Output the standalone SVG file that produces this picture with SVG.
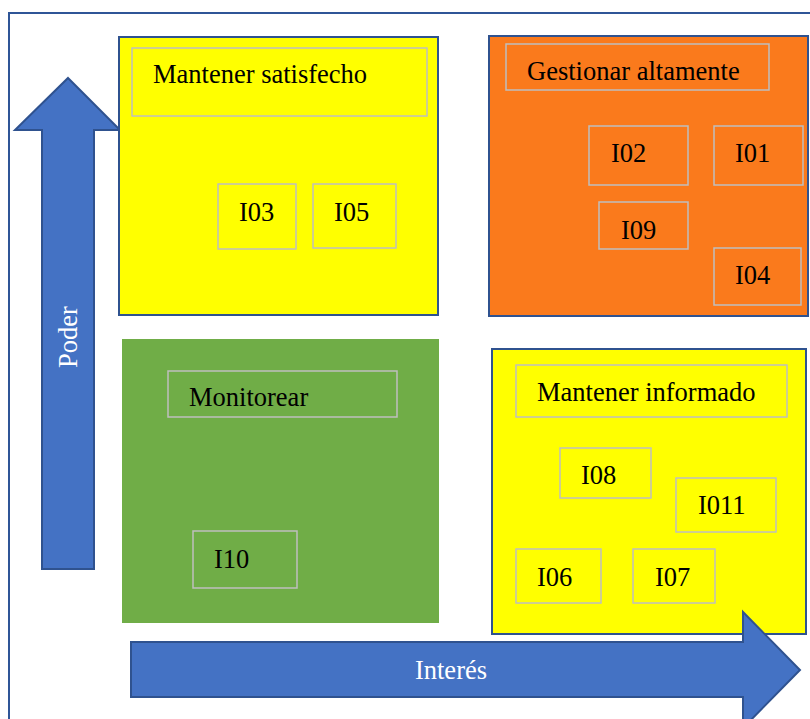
<svg xmlns="http://www.w3.org/2000/svg" width="810" height="719" viewBox="0 0 810 719">
<style>
.quad{stroke:#2F528F;stroke-width:2}
.lbl{fill:none;stroke:#BFBFBF;stroke-width:1.5}
.t{font-family:"Liberation Serif","Times New Roman",serif;font-size:26.5px;fill:#000}
.w{font-family:"Liberation Serif","Times New Roman",serif;font-size:26.5px;fill:#FFFFFF}
.arrow{fill:#4472C4;stroke:#2F528F;stroke-width:2}
</style>
<rect x="0" y="0" width="810" height="719" fill="#FFFFFF"/>
<rect id="frame" x="9" y="13" width="820" height="730" fill="none" stroke="#2F5597" stroke-width="2"/>
<g id="connectors">
<path id="arrow-poder" class="arrow" d="M68,78 L120,130 L94,130 L94,569 L42,569 L42,130 L15,130 Z"/>
</g>
<g id="q-satisfecho">
<rect class="quad" x="119" y="37" width="319" height="278" fill="#FFFF00"/>
<rect class="lbl" x="132" y="48" width="295" height="68"/>
<text class="t" x="153" y="83">Mantener satisfecho</text>
<g id="I03"><rect class="lbl" x="218" y="184" width="78" height="65"/><text class="t" x="239" y="221">I03</text></g>
<g id="I05"><rect class="lbl" x="313" y="184" width="83" height="64"/><text class="t" x="334" y="221">I05</text></g>
</g>
<g id="q-gestionar">
<rect class="quad" x="489" y="36" width="319" height="280" fill="#FA7A1C"/>
<rect class="lbl" x="506" y="44" width="263" height="46"/>
<text class="t" x="527" y="80">Gestionar altamente</text>
<g id="I02"><rect class="lbl" x="589" y="126" width="99" height="59"/><text class="t" x="611" y="162">I02</text></g>
<g id="I01"><rect class="lbl" x="714" y="126" width="89" height="59"/><text class="t" x="735" y="162">I01</text></g>
<g id="I09"><rect class="lbl" x="599" y="202" width="89" height="47"/><text class="t" x="621" y="239">I09</text></g>
<g id="I04"><rect class="lbl" x="714" y="248" width="87" height="57"/><text class="t" x="735" y="284">I04</text></g>
</g>
<g id="q-monitorear">
<rect x="122" y="339" width="317" height="284" fill="#70AD47"/>
<rect class="lbl" x="168" y="371" width="229" height="46"/>
<text class="t" x="189" y="406">Monitorear</text>
<g id="I10"><rect class="lbl" x="193" y="531" width="104" height="57"/><text class="t" x="214" y="568">I10</text></g>
</g>
<g id="q-informado">
<rect class="quad" x="492" y="349" width="314" height="285" fill="#FFFF00"/>
<rect class="lbl" x="516" y="365" width="271" height="52"/>
<text class="t" x="537" y="401">Mantener informado</text>
<g id="I08"><rect class="lbl" x="560" y="448" width="91" height="50"/><text class="t" x="581" y="484">I08</text></g>
<g id="I011"><rect class="lbl" x="676" y="478" width="100" height="54"/><text class="t" x="698" y="514">I011</text></g>
<g id="I06"><rect class="lbl" x="516" y="549" width="85" height="54"/><text class="t" x="537" y="586">I06</text></g>
<g id="I07"><rect class="lbl" x="633" y="549" width="82" height="54"/><text class="t" x="655" y="586">I07</text></g>
</g>
<g id="axis-interes">
<path class="arrow" d="M131,642 L743,642 L743,612 L800,670 L743,728 L743,697 L131,697 Z"/>
<text class="w" x="451" y="679" text-anchor="middle">Interés</text>
</g>
<text class="w" x="0" y="0" text-anchor="middle" transform="translate(77,337) rotate(-90)">Poder</text>
</svg>
